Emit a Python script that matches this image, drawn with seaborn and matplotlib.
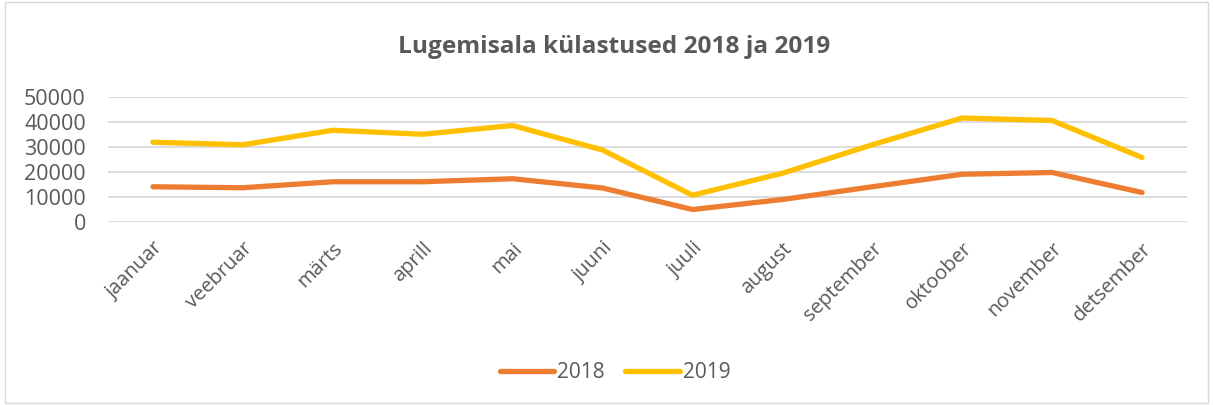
import pandas as pd
import seaborn as sns
import matplotlib.pyplot as plt

months = ['jaanuar', 'veebruar', 'märts', 'aprill', 'mai', 'juuni',
          'juuli', 'august', 'september', 'oktoober', 'november', 'detsember']
visits_2018 = [14100, 13700, 16100, 16100, 17300, 13600,
               5000, 9000, 14100, 19100, 19800, 11800]
visits_2019 = [31900, 30900, 36700, 35100, 38600, 28800,
               10700, 19500, 30900, 41600, 40600, 25800]

df = pd.DataFrame({
    'kuu': months * 2,
    'külastused': visits_2018 + visits_2019,
    'aasta': ['2018'] * 12 + ['2019'] * 12,
})

sns.set_style('white')
plt.rcParams['font.family'] = ['Open Sans', 'DejaVu Sans']

fig = plt.figure(figsize=(12.13, 4.05), dpi=100)
ax = fig.add_axes([108 / 1213, 1 - 222 / 405, (1187 - 108) / 1213, 125 / 405])

sns.lineplot(data=df, x='kuu', y='külastused', hue='aasta',
             palette={'2018': '#ED7D31', '2019': '#FFC000'},
             linewidth=3.8, sort=False, ax=ax, legend=False)
for ln in ax.lines:
    ln.set_solid_capstyle('round')
    ln.set_solid_joinstyle('round')

ax.set_xlim(-0.5, 11.5)
ax.set_ylim(0, 50000)
ax.set_yticks(range(0, 50001, 10000))
ax.yaxis.grid(True, color='#D9D9D9', linewidth=1.3)
ax.set_axisbelow(True)
for s in ax.spines.values():
    s.set_visible(False)
ax.set_xlabel('')
ax.set_ylabel('')
ax.tick_params(axis='both', length=0, colors='#595959')
ax.tick_params(axis='y', labelsize=15.5, pad=16)
ax.set_xticks(range(12))
ax.set_xticklabels(months, rotation=45, ha='right', rotation_mode='anchor')
ax.tick_params(axis='x', labelsize=14.5, pad=12)

fig.text(614 / 1213, 1 - 47 / 405, 'Lugemisala külastused 2018 ja 2019',
         ha='center', va='center', fontsize=17.6, fontweight='bold', color='#595959')

handles = [plt.Line2D([], [], color='#ED7D31', lw=3.8, solid_capstyle='round'),
           plt.Line2D([], [], color='#FFC000', lw=3.8, solid_capstyle='round')]
fig.legend(handles, ['2018', '2019'], loc='center',
           bbox_to_anchor=(615 / 1213, 1 - 373 / 405),
           ncol=2, frameon=False, fontsize=15, labelcolor='#595959',
           handlelength=2.6, columnspacing=1.0, handletextpad=0.15)

border = plt.Rectangle((0.004, 0.004), 0.992, 0.992, transform=fig.transFigure,
                       fill=False, edgecolor='#D9D9D9', linewidth=1)
fig.patches.append(border)

fig.savefig('out.png', dpi=100)
